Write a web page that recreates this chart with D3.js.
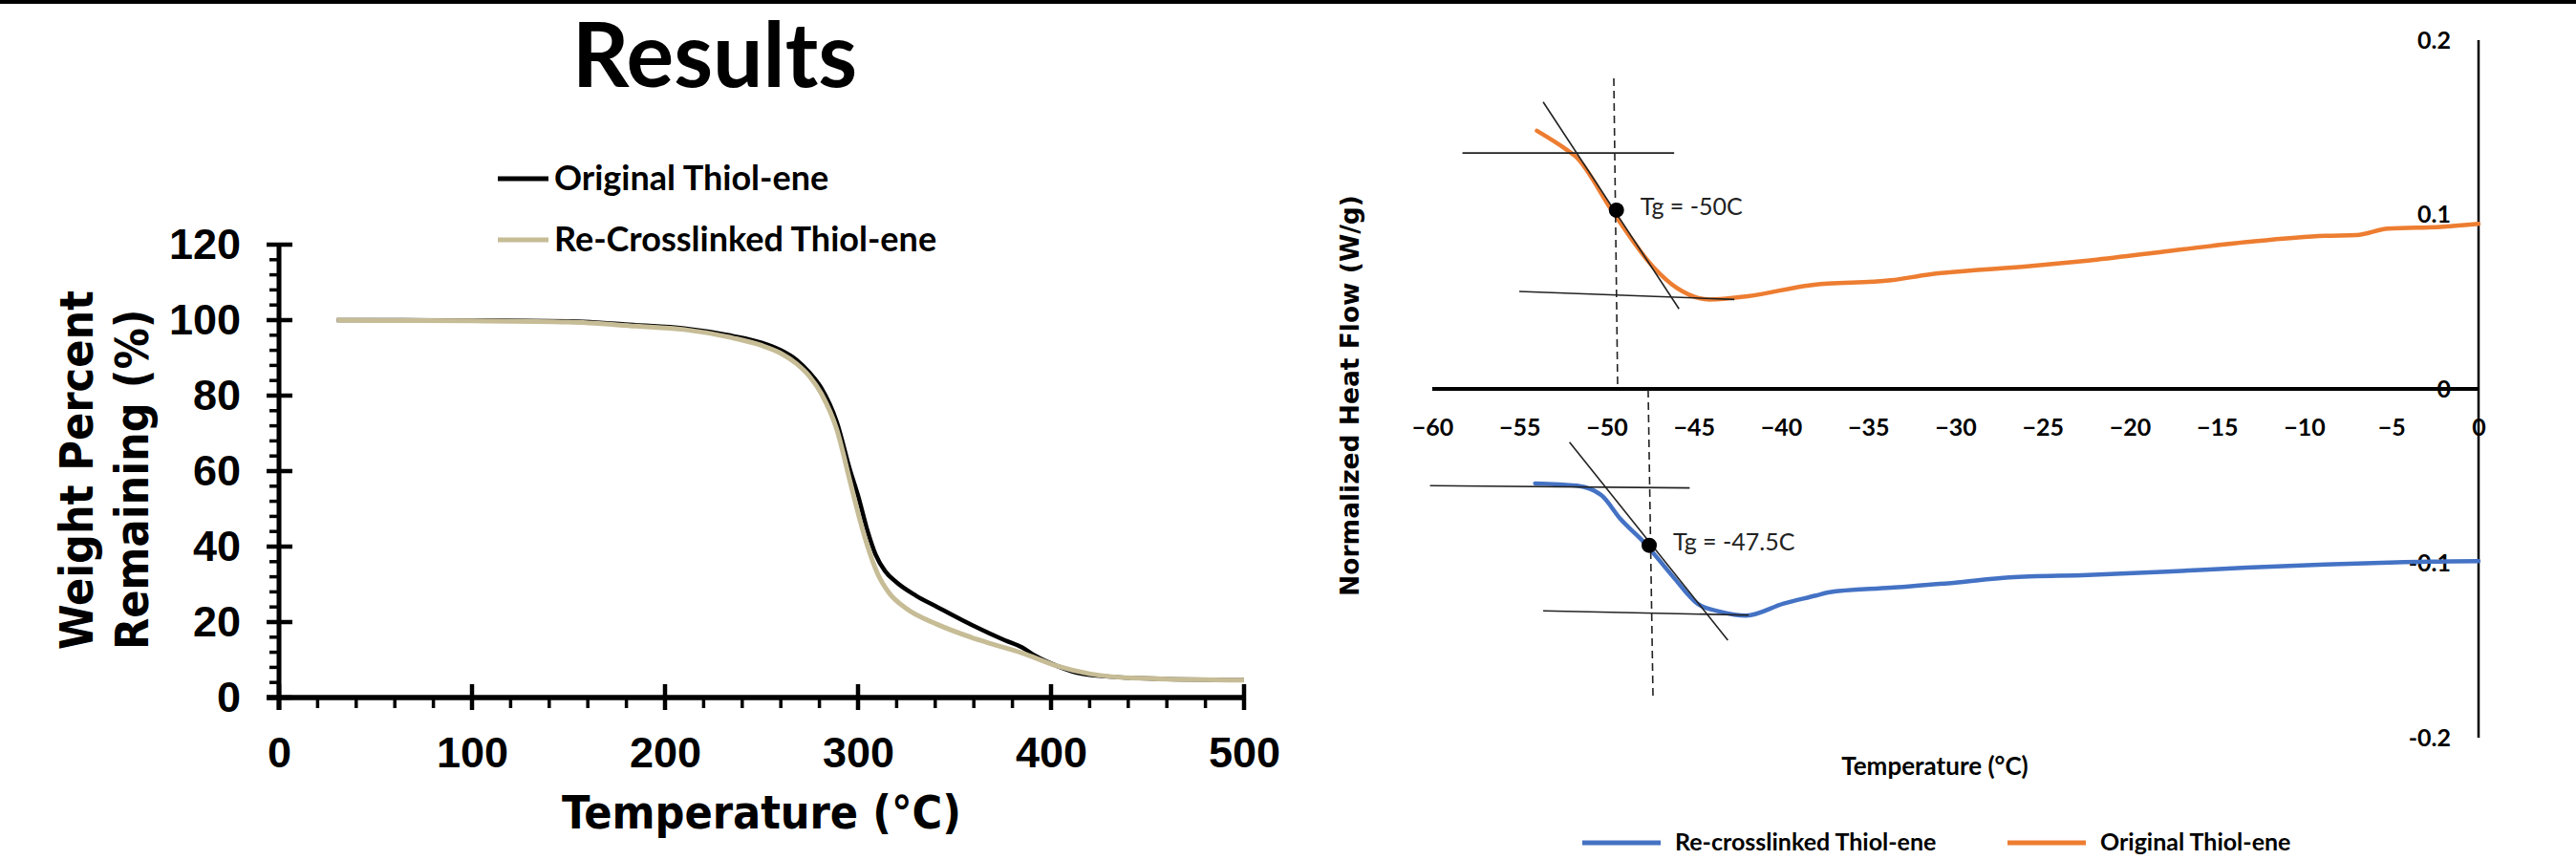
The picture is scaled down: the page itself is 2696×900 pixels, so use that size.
<!DOCTYPE html>
<html>
<head>
<meta charset="utf-8">
<script src="https://cdn.jsdelivr.net/npm/d3@7"></script>
<style>
  html, body { margin: 0; padding: 0; background: #fff; }
  svg { display: block; }
</style>
</head>
<body>
<svg id="chart" width="2696" height="900"></svg>
<script>
// TGA data (left chart)
const tgaOrigTemp = [30, 50, 100, 150, 185, 210, 235, 250, 260, 268, 275, 281, 289, 296, 300, 305, 309, 314, 320, 330, 341, 354, 376, 385, 392, 403, 416, 442, 500];
const tgaOrigWt   = [100, 100, 99.9, 99.7, 98.7, 97.8, 95.8, 94, 92, 89.5, 86, 82, 73, 60, 53.5, 44, 38, 33.5, 30.5, 27, 24, 20.5, 15.2, 13.3, 11, 8.4, 6.3, 5.2, 4.6];
const tgaReTemp = [30, 50, 100, 150, 185, 210, 235, 250, 260, 268, 275, 281, 289, 296, 301, 305, 310, 316, 325, 341, 363, 385, 403, 420, 442, 500];
const tgaReWt   = [100, 99.9, 99.8, 99.5, 98.4, 97.5, 95.3, 93.3, 91.2, 88.5, 85, 80.5, 71, 57, 47, 40, 33, 27.8, 23.6, 19.4, 15.2, 11.8, 8.4, 6.3, 5.2, 4.6];
const tgaXTicks = [0, 100, 200, 300, 400, 500];
const tgaYTicks = [0, 20, 40, 60, 80, 100, 120];
const tgaLegend = ['Original Thiol-ene', 'Re-Crosslinked Thiol-ene'];

// DSC data (right chart)
const dscOrigTemp = [-54.0, -52.3, -51.8, -49.6, -47.3, -45.95, -44.1, -41.9, -38.3, -33.7, -31.5, -25.6, -22.4, -18.3, -13.3, -8.8, -7.0, -5.2, -2.0, 0];
const dscOrigFlow = [0.148, 0.1372, 0.1335, 0.1008, 0.0696, 0.0577, 0.0513, 0.0532, 0.0595, 0.0623, 0.0656, 0.0705, 0.0736, 0.0784, 0.0842, 0.0878, 0.0882, 0.0919, 0.093, 0.0946];
const dscReTemp = [-54.1, -51.7, -50.3, -49.2, -47.9, -46.2, -44.8, -43.5, -42.0, -39.85, -38.0, -37.3, -33.7, -30.1, -26.9, -22.4, -17.9, -13.3, -8.8, -4.7, 0];
const dscReFlow = [-0.0542, -0.0555, -0.061, -0.0747, -0.0875, -0.1076, -0.1231, -0.1277, -0.130, -0.1231, -0.1185, -0.1167, -0.114, -0.1112, -0.1081, -0.1067, -0.1048, -0.1025, -0.1007, -0.0994, -0.0988];
const dscXTicks = [-60, -55, -50, -45, -40, -35, -30, -25, -20, -15, -10, -5, 0];
const dscYTicks = [0.2, 0.1, 0, -0.1, -0.2];
const dscYLabels = ['0.2', '0.1', '0', '-0.1', '-0.2'];
const dscLegend = ['Re-crosslinked Thiol-ene', 'Original Thiol-ene'];

// Tg construction lines, [temp, flow] pairs
const origTgLines = [
  [[-58.27, 0.1353], [-46.13, 0.1353]],
  [[-53.64, 0.1645], [-45.85, 0.0459]],
  [[-55.01, 0.0559], [-42.68, 0.0513]]
];
const origTgDash = [[-49.59, 0.1781], [-49.37, 0.0011]];
const origTgPoint = [-49.44, 0.1025];
const origTgText = 'Tg = -50C';
const reTgLines = [
  [[-60.13, -0.0555], [-45.24, -0.0568]],
  [[-52.13, -0.0305], [-43.05, -0.1441]],
  [[-53.64, -0.1273], [-41.86, -0.1297]]
];
const reTgDash = [[-47.62, -0.0006], [-47.34, -0.1779]];
const reTgPoint = [-47.56, -0.0897];
const reTgText = 'Tg = -47.5C';

const svg = d3.select('#chart');
const condensed = '"DejaVu Sans Condensed", "DejaVu Sans", sans-serif';
const arial = '"Liberation Sans", Arial, sans-serif';
const lato = 'Lato, "Open Sans", sans-serif';

// top rule
svg.append('rect').attr('x', 0).attr('y', 0).attr('width', 2696).attr('height', 4).attr('fill', '#000');

// Title
svg.append('text')
  .attr('x', 748).attr('y', 91)
  .attr('text-anchor', 'middle')
  .style('font-family', lato).style('font-weight', 700).style('font-size', '93px')
  .text('Results');

// ---------- Left chart: TGA ----------
const tx = d3.scaleLinear().domain([0, 500]).range([292, 1302]);
const ty = d3.scaleLinear().domain([0, 120]).range([730, 256]);
const left = svg.append('g');

// minor ticks
const yMinor = d3.range(0, 121, 4).filter(v => v % 20 !== 0);
left.selectAll('.yminor').data(yMinor).enter().append('line')
  .attr('x1', tx(0) - 10).attr('x2', tx(0))
  .attr('y1', d => ty(d)).attr('y2', d => ty(d))
  .attr('stroke', '#000').attr('stroke-width', 3.5);
const xMinor = d3.range(0, 501, 20).filter(v => v % 100 !== 0);
left.selectAll('.xminor').data(xMinor).enter().append('line')
  .attr('x1', d => tx(d)).attr('x2', d => tx(d))
  .attr('y1', ty(0)).attr('y2', ty(0) + 11)
  .attr('stroke', '#000').attr('stroke-width', 3.5);
// major ticks (cross the axis)
left.selectAll('.ymajor').data(tgaYTicks).enter().append('line')
  .attr('x1', tx(0) - 13).attr('x2', tx(0) + 14)
  .attr('y1', d => ty(d)).attr('y2', d => ty(d))
  .attr('stroke', '#000').attr('stroke-width', 4.5);
left.selectAll('.xmajor').data(tgaXTicks).enter().append('line')
  .attr('x1', d => tx(d)).attr('x2', d => tx(d))
  .attr('y1', ty(0) - 14).attr('y2', ty(0) + 13)
  .attr('stroke', '#000').attr('stroke-width', 4.5);
// axis lines
left.append('line').attr('x1', tx(0)).attr('x2', tx(0)).attr('y1', ty(120) - 2).attr('y2', ty(0) + 13)
  .attr('stroke', '#000').attr('stroke-width', 5);
left.append('line').attr('x1', tx(0) - 13).attr('x2', tx(500) + 2).attr('y1', ty(0)).attr('y2', ty(0))
  .attr('stroke', '#000').attr('stroke-width', 5.5);

// tick labels via d3 axes
const lyAxis = left.append('g').attr('transform', `translate(${tx(0)},0)`)
  .call(d3.axisLeft(ty).tickValues(tgaYTicks).tickSize(0).tickPadding(40));
const lxAxis = left.append('g').attr('transform', `translate(0,${ty(0)})`)
  .call(d3.axisBottom(tx).tickValues(tgaXTicks).tickSize(0));
[lyAxis, lxAxis].forEach(a => {
  a.select('.domain').remove();
  a.selectAll('text').style('font-family', arial).style('font-weight', 700)
    .style('font-size', '45px').attr('fill', '#000');
});
lxAxis.selectAll('text').attr('y', 73).attr('dy', 0);

// axis titles
left.append('text').attr('transform', 'translate(97,680) rotate(-90)')
  .style('font-family', condensed).style('font-weight', 700).style('font-size', '48px')
  .text('Weight Percent');
left.append('text').attr('transform', 'translate(155,680) rotate(-90)')
  .style('font-family', condensed).style('font-weight', 700).style('font-size', '48px')
  .text('Remaining (%)');
left.append('text').attr('x', 797).attr('y', 867).attr('text-anchor', 'middle')
  .style('font-family', condensed).style('font-weight', 700).style('font-size', '48px')
  .text('Temperature (°C)');

// curves
const tgaLine = d3.line().x(d => tx(d[0])).y(d => ty(d[1])).curve(d3.curveMonotoneX);
left.append('path').datum(d3.zip(tgaOrigTemp, tgaOrigWt)).attr('d', tgaLine)
  .attr('fill', 'none').attr('stroke', '#000').attr('stroke-width', 4.5);
left.append('path').datum(d3.zip(tgaReTemp, tgaReWt)).attr('d', tgaLine)
  .attr('fill', 'none').attr('stroke', '#c6bc96').attr('stroke-width', 5);

// legend
const tgaColors = ['#000', '#c6bc96'];
const lLeg = left.selectAll('.leg').data(tgaLegend).enter().append('g')
  .attr('transform', (d, i) => `translate(521,${187 + i * 64})`);
lLeg.append('line').attr('x1', 0).attr('x2', 53).attr('y1', 0).attr('y2', 0)
  .attr('stroke', (d, i) => tgaColors[i]).attr('stroke-width', 5);
lLeg.append('text').attr('x', 59).attr('y', 12)
  .style('font-family', lato).style('font-weight', 700).style('font-size', '36px')
  .text(d => d);

// ---------- Right chart: DSC ----------
const dx = d3.scaleLinear().domain([-60, 0]).range([1499, 2594]);
const dy = d3.scaleLinear().domain([-0.2, 0.2]).range([772, 42]);
const right = svg.append('g');

right.append('line').attr('x1', dx(0)).attr('x2', dx(0)).attr('y1', dy(0.2)).attr('y2', dy(-0.2))
  .attr('stroke', '#000').attr('stroke-width', 2.5);
right.append('line').attr('x1', dx(-60)).attr('x2', dx(0)).attr('y1', dy(0)).attr('y2', dy(0))
  .attr('stroke', '#000').attr('stroke-width', 4);

const rxAxis = right.append('g').attr('transform', `translate(0,${dy(0)})`)
  .call(d3.axisBottom(dx).tickValues(dscXTicks).tickSize(0));
const ryAxis = right.append('g').attr('transform', `translate(${dx(0)},0)`)
  .call(d3.axisLeft(dy).tickValues(dscYTicks).tickSize(0).tickPadding(29)
    .tickFormat((d, i) => dscYLabels[i]));
[rxAxis, ryAxis].forEach(a => {
  a.select('.domain').remove();
  a.selectAll('text').style('font-family', lato).style('font-weight', 700)
    .style('font-size', '25px').attr('fill', '#000');
});
rxAxis.selectAll('text').attr('y', 49).attr('dy', 0);

right.append('text').attr('transform', 'translate(1422,414) rotate(-90)')
  .attr('text-anchor', 'middle')
  .style('font-family', '"DejaVu Sans", sans-serif').style('font-weight', 700).style('font-size', '26.5px')
  .text('Normalized Heat Flow (W/g)');
right.append('text').attr('x', 2025).attr('y', 811).attr('text-anchor', 'middle')
  .style('font-family', lato).style('font-weight', 700).style('font-size', '26px')
  .text('Temperature (°C)');

const dscLine = d3.line().x(d => dx(d[0])).y(d => dy(d[1])).curve(d3.curveMonotoneX);
right.append('path').datum(d3.zip(dscOrigTemp, dscOrigFlow)).attr('d', dscLine)
  .attr('fill', 'none').attr('stroke', '#ed7d31').attr('stroke-width', 4.5).attr('stroke-linecap', 'round');
right.append('path').datum(d3.zip(dscReTemp, dscReFlow)).attr('d', dscLine)
  .attr('fill', 'none').attr('stroke', '#4472c4').attr('stroke-width', 4.5).attr('stroke-linecap', 'round');

// Tg constructions
const seg = d3.line().x(d => dx(d[0])).y(d => dy(d[1]));
function drawTg(lines, dash, point, label) {
  lines.forEach(l => {
    right.append('path').attr('d', seg(l)).attr('fill', 'none')
      .attr('stroke', '#222').attr('stroke-width', 1.6);
  });
  right.append('path').attr('d', seg(dash)).attr('fill', 'none')
    .attr('stroke', '#222').attr('stroke-width', 1.6).attr('stroke-dasharray', '8,5');
  right.append('circle').attr('cx', dx(point[0])).attr('cy', dy(point[1])).attr('r', 8).attr('fill', '#000');
  right.append('text').attr('x', dx(point[0]) + 25).attr('y', dy(point[1]) + 5)
    .style('font-family', lato).style('font-size', '25px').attr('fill', '#222')
    .text(label);
}
drawTg(origTgLines, origTgDash, origTgPoint, origTgText);
drawTg(reTgLines, reTgDash, reTgPoint, reTgText);

// legend
const dscColors = ['#4472c4', '#ed7d31'];
const legX = [1656, 2101];
const rLeg = right.selectAll('.rleg').data(dscLegend).enter().append('g')
  .attr('transform', (d, i) => `translate(${legX[i]},882)`);
rLeg.append('line').attr('x1', 0).attr('x2', 82).attr('y1', 0).attr('y2', 0)
  .attr('stroke', (d, i) => dscColors[i]).attr('stroke-width', 5);
rLeg.append('text').attr('x', 97).attr('y', 8)
  .style('font-family', lato).style('font-weight', 700).style('font-size', '25px')
  .text(d => d);
</script>
</body>
</html>
